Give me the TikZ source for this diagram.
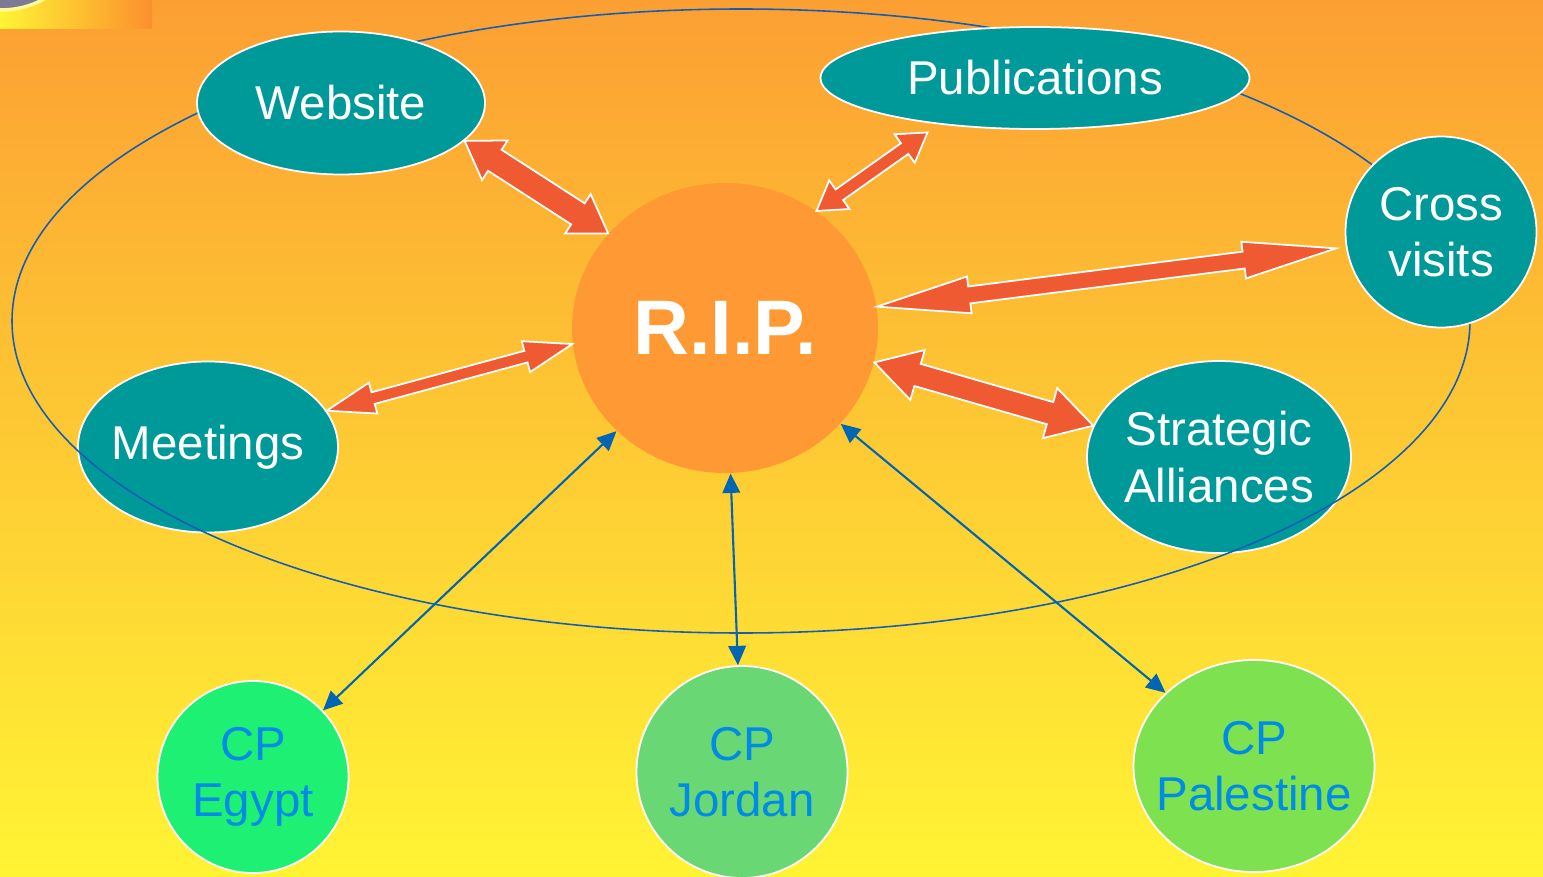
\documentclass[tikz,border=0pt]{standalone}
\usepackage{fontspec}
\setmainfont{Liberation Sans}
\usepackage{tikz}
\usetikzlibrary{arrows.meta,shapes.geometric,calc,positioning}
\definecolor{bgtop}{RGB}{252, 159, 51}
\definecolor{bgbottom}{RGB}{255, 244, 52}
\definecolor{tealnode}{RGB}{0, 153, 153}
\definecolor{ripfill}{RGB}{255, 153, 51}
\definecolor{arrowred}{RGB}{240, 90, 50}
\definecolor{ringblue}{RGB}{20, 95, 180}
\definecolor{linkblue}{RGB}{0, 102, 179}
\definecolor{cpblue}{RGB}{0, 140, 230}
\definecolor{cpegypt}{RGB}{30, 240, 115}
\definecolor{cpjordan}{RGB}{105, 215, 115}
\definecolor{cppalestine}{RGB}{125, 225, 80}
\definecolor{logogrey}{RGB}{125, 122, 150}

\newcommand{\labelfont}{\fontsize{13.5pt}{16pt}\selectfont}

% double headed block arrow: tip, tip, half shaft, half head, head length
\newcommand{\bigarrow}[5]{%
  \filldraw[fatarrow] (#1)
    -- ($(#1)!#5!(#2)!#4!90:(#2)$)
    -- ($(#1)!#5!(#2)!#3!90:(#2)$)
    -- ($(#2)!#5!(#1)!#3!90:(#2)$)
    -- ($(#2)!#5!(#1)!#4!90:(#2)$)
    -- (#2)
    -- ($(#2)!#5!(#1)!#4!-90:(#2)$)
    -- ($(#2)!#5!(#1)!#3!-90:(#2)$)
    -- ($(#1)!#5!(#2)!#3!-90:(#2)$)
    -- ($(#1)!#5!(#2)!#4!-90:(#2)$)
    -- cycle;}

\tikzset{
  topic/.style={ellipse, fill=tealnode, draw=white, line width=0.5pt,
    text=white, font=\labelfont, align=center, inner sep=-4mm},
  partner/.style={ellipse, draw=white, line width=0.5pt,
    text=cpblue, font=\labelfont, align=center, inner sep=-4mm},
  fatarrow/.style={fill=arrowred, draw=white, line width=0.5pt, line join=miter},
  link/.style={draw=linkblue, line width=0.6pt,
    {Triangle[length=5.5pt,width=5pt]}-{Triangle[length=5.5pt,width=5pt]}}
}

\begin{document}
\begin{tikzpicture}[x=0.1mm, y=-0.1mm]
  % background
  \shade[top color=bgtop, bottom color=bgbottom] (0,0) rectangle (1543,877);
  \useasboundingbox (0,0) rectangle (1543,877);

  % corner of the logo
  \shade[left color=bgbottom, right color=bgtop!90!red] (0,0) rectangle (152,29);
  \begin{scope}
    \clip (0,0) rectangle (152,29);
    \filldraw[fill=logogrey, draw=yellow!40!white, line width=1pt] (0,-25) ellipse [x radius=6mm, y radius=3.5mm];
  \end{scope}

  % nodes lying under the ring
  \node[topic, minimum width=26mm, minimum height=17.1mm] (meet) at (208,447) {Meetings};
  \node[topic, minimum width=26.4mm, minimum height=19.2mm] (sa) at (1219,457) {Strategic\\Alliances};

  % ring
  \draw[ringblue, line width=0.45pt] (741,321) ellipse [x radius=72.9mm, y radius=31.2mm];

  % nodes above the ring
  \node[topic, minimum width=28.8mm, minimum height=14.3mm] (web) at (341,103) {Website};
  \node[topic, minimum width=42.9mm, minimum height=10.2mm] (pub) at (1035,78) {Publications};
  \node[topic, minimum width=19.1mm, minimum height=19.1mm] (cv) at (1441,232) {Cross\\visits};
  \node[ellipse, fill=ripfill, minimum width=30.6mm, minimum height=29mm, inner sep=0pt,
    text=white, font=\fontsize{22pt}{24pt}\selectfont\bfseries] (rip) at (725,328) {R.I.P.};

  % country partners
  \node[partner, fill=cpegypt, minimum width=19.1mm, minimum height=19.2mm] (egypt) at (253,777) {CP\\Egypt};
  \node[partner, fill=cpjordan, minimum width=21.1mm, minimum height=21.2mm] (jordan) at (742,772) {CP\\Jordan};
  \node[partner, fill=cppalestine, minimum width=24.1mm, minimum height=21.2mm] (pal) at (1254,766) {CP\\Palestine};

  % block arrows
  \coordinate (cvTip) at ($(cv.189)!1mm!(rip.center)$);
  \coordinate (pubTip) at ($(pub.-155)!1.2mm!(rip.center)$);
  \bigarrow{web.-17}{rip.141}{1.25mm}{2.35mm}{3.6mm}
  \bigarrow{pubTip}{rip.52}{0.65mm}{1.75mm}{2.8mm}
  \bigarrow{rip.8}{cvTip}{0.85mm}{1.85mm}{9.3mm}
  \bigarrow{meet.17}{rip.186}{0.6mm}{1.6mm}{4.8mm}
  \bigarrow{rip.-13}{sa.166}{1.15mm}{2.6mm}{4.5mm}

  % thin links
  \draw[link] (egypt) -- (rip);
  \draw[link] (jordan) -- (rip);
  \draw[link] (pal) -- (rip);
\end{tikzpicture}
\end{document}
